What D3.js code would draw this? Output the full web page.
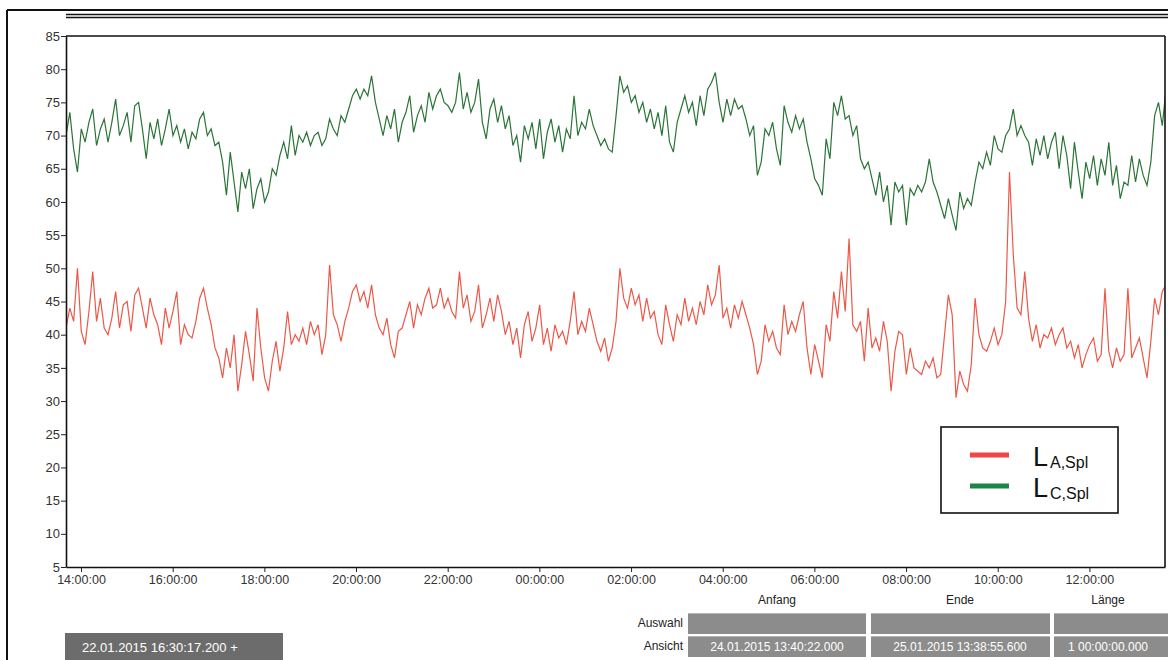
<!DOCTYPE html>
<html>
<head>
<meta charset="utf-8">
<script src="https://cdn.jsdelivr.net/npm/d3@7"></script>
<style>
  body { margin: 0; background: #fff; }
  svg { display: block; font-family: "Liberation Sans", Arial, sans-serif; }
</style>
</head>
<body>
<svg id="chart" width="1168" height="660"></svg>
<script>
// time range of the view (Ansicht)
var startTime = new Date(2015, 0, 24, 13, 40, 22);
var endTime = new Date(2015, 0, 25, 13, 38, 55, 600);
var stepMinutes = 5;

// L_A,Spl (red), one value every 5 minutes
var laSpl = [
  41, 44, 42, 50, 40.5, 38.5, 43.5, 49.5, 42, 45.5,
  41, 40, 42.5, 46.5, 41, 44.5, 45, 40.5, 46, 47,
  44, 41, 45.5, 43, 41.5, 38.5, 44, 41, 43.5, 46.5,
  38.5, 41.5, 40, 39.5, 42, 45.5, 47, 44, 41.5, 38,
  36.5, 33.5, 38, 35, 40, 31.5, 35.5, 40.5, 37, 33,
  44, 38, 33.5, 31.5, 36, 39, 34.5, 38, 43.5, 38.5,
  40, 39, 41, 38.5, 42, 40, 41.5, 37, 40, 50.5,
  43, 41.5, 39, 42, 44, 46.5, 47.5, 45, 46.5, 44,
  47.5, 43, 41, 40, 42.5, 38.5, 36.5, 40.5, 41, 43,
  45, 41, 44.5, 43, 45.5, 47, 44,
  44.5, 47, 44, 45.5, 43.5, 42.5, 49.5, 44, 46, 42,
  43.5, 47.5, 41, 43, 45.5, 42, 46, 43.5, 40, 42,
  38.5, 41, 36.5, 41.5, 43.5, 39, 41, 44.5, 38.5, 41,
  37.5, 41.5, 39.5, 40.5, 38.5, 42, 46.5, 40, 42, 40.5,
  44, 41.5, 39, 37.5, 39.5, 36, 38, 42, 50, 45.5,
  44, 47, 44.5, 46, 42, 45.5, 42.5, 43.5, 40, 38.5,
  44.5, 41.5, 39, 43, 41.5, 45.5, 42, 44, 41.5, 45,
  43, 47.5, 44.5, 46, 50.5, 42.5, 44, 41, 44.5, 42.5,
  45, 43, 41, 38.5, 34, 36, 41.5, 39, 40.5, 38,
  37, 44.5, 40, 42, 40.5, 43, 45,
  38,
  34, 38.5, 36, 33.5, 41.5, 39, 46.5, 42.5, 49.5, 43.5,
  54.5, 41.5, 40.5, 42, 36, 44, 38, 39.5, 37.5, 42,
  39, 31.5, 37.5, 40.5, 40, 34, 38, 35, 34.5, 34,
  36, 35, 36.5, 33.5, 34, 40, 46, 43, 30.5, 34.5,
  32.5, 31.5, 35.5, 45.5, 40, 38, 37.5, 39, 41, 38.5,
  40, 45, 64.5, 52, 44, 43, 49.5, 42.5, 39, 41.5,
  38, 40, 39.5, 41, 38.5, 40, 41, 38, 39, 36.5,
  38.5, 35, 37, 38.5, 39.5, 36, 37, 47, 37.5, 35,
  38, 36, 37, 47, 36.5, 38, 39.5, 36.5, 33.5, 39,
  45.5, 43, 46.5, 47.5
];

// L_C,Spl (green)
var lcSpl = [
  70, 73.5, 68, 64.5, 71, 69, 72, 74, 68.5, 71,
  72.5, 69, 72, 75.5, 70, 71.5, 73.5, 69, 74.5, 75,
  71, 66.5, 72, 69.5, 72.5, 68.5, 71, 74, 70, 71.5,
  69, 71, 68, 70.5, 69.5, 72.5, 73.5, 70, 71, 68.5,
  69, 66, 61, 67.5, 63, 58.5, 64.5, 62, 65, 59,
  62, 63.5, 60, 61.5, 65, 64, 67, 69, 66.5, 71.5,
  67, 70, 69, 70.5, 68.5, 70, 70.5, 68.5, 69.5, 72.5,
  71, 70, 73, 72, 74, 76, 77, 75.5, 77, 76,
  79, 75, 72.5, 70, 73, 71, 74, 69, 72, 73.5,
  76, 70.5, 73, 74.5, 72, 76.5, 74,
  76, 77, 75, 74.5, 73.5, 75, 79.5, 74, 76.5, 73.5,
  75, 78.5, 72, 69.5, 74, 75.5, 72, 74.5, 71, 73,
  68.5, 70, 66, 71.5, 69.5, 72, 68, 72.5, 66.5, 70.5,
  72.5, 69, 71.5, 67.5, 71, 69.5, 76, 70, 72, 71,
  74, 71.5, 70, 68.5, 69.5, 68, 67.5, 73, 79, 76.5,
  77.5, 75, 76, 73.5, 75, 72, 74, 71, 73.5, 70,
  74.5, 69, 67.5, 72, 74, 76, 73.5, 75, 71.5, 76,
  73, 77, 78, 79.5, 75, 72, 75.5, 73, 75.5, 74,
  74.5, 72.5, 70, 71.5, 64, 66, 71, 70, 72, 68,
  65.5, 74.5, 72, 70.5, 73, 71, 72.5,
  69,
  66.5, 63.5, 62.5, 61, 69.5, 66.5, 75, 73, 76, 72.5,
  73, 70, 71.5, 66.5, 65, 66, 63.5, 61, 64.5, 60,
  62.5, 56.5, 63, 61.5, 62.5, 56.5, 62, 61, 62.5, 61.5,
  63, 66.5, 63, 61.5, 59.5, 57.5, 60.5, 58, 55.7, 61.5,
  59, 60.5, 59.5, 63, 66, 65, 67.5, 65.5, 70, 68,
  67.5, 70, 71, 74, 70, 71.5, 70, 69, 65.5, 69.5,
  67, 70, 66.5, 69, 70.5, 65, 70, 67, 62, 69,
  64.5, 60.5, 66, 63.5, 67, 62.5, 66.5, 64, 69, 62.5,
  65.5, 60.5, 63, 62.5, 67, 63, 66.5, 64, 62.5, 66,
  73, 75, 71.5, 77
];

var yTicks = [5, 10, 15, 20, 25, 30, 35, 40, 45, 50, 55, 60, 65, 70, 75, 80, 85];
var legendMain = ["L", "L"];
var legendSub = ["A,Spl", "C,Spl"];
var seriesColors = ["#ec5848", "#2a7436"];
var legendColors = ["#f04646", "#1d8548"];

var panelColumns = ["Anfang", "Ende", "Länge"];
var panelRows = ["Auswahl", "Ansicht"];
var ansichtValues = ["24.01.2015 13:40:22.000", "25.01.2015 13:38:55.600", "1 00:00:00.000"];
var cursorLabel = "22.01.2015 16:30:17.200 +";

var svg = d3.select("#chart");
var plotLeft = 66, plotRight = 1165, plotTop = 36, plotBottom = 567;

var x = d3.scaleTime().domain([startTime, endTime]).range([plotLeft, plotRight]);
var y = d3.scaleLinear().domain([5, 85]).range([plotBottom, plotTop]);

function timeAt(i) {
    return new Date(startTime.getTime() + i * stepMinutes * 60000);
}

// outer frame of the window
svg.append("line").attr("x1", 7).attr("x2", 1168).attr("y1", 10).attr("y2", 10)
    .attr("stroke", "#111").attr("stroke-width", 2);
svg.append("line").attr("x1", 7).attr("x2", 7).attr("y1", 10).attr("y2", 660)
    .attr("stroke", "#111").attr("stroke-width", 2);
[14.5, 17.5].forEach(function (yy) {
    svg.append("line").attr("x1", plotLeft).attr("x2", 1168).attr("y1", yy).attr("y2", yy)
        .attr("stroke", "#111").attr("stroke-width", 1.4);
});

// clip for the traces
svg.append("clipPath").attr("id", "plotClip")
    .append("rect").attr("x", plotLeft).attr("y", plotTop)
    .attr("width", plotRight - plotLeft).attr("height", plotBottom - plotTop);

var plot = svg.append("g").attr("clip-path", "url(#plotClip)");

var line = d3.line()
    .x(function (d, i) { return x(timeAt(i)); })
    .y(function (d) { return y(d); });

[lcSpl, laSpl].forEach(function (series, k) {
    plot.append("path")
        .attr("d", line(series))
        .attr("fill", "none")
        .attr("stroke", k === 0 ? seriesColors[1] : seriesColors[0])
        .attr("stroke-width", 1.2)
        .attr("stroke-linejoin", "miter");
});

// plot frame (top + right)
svg.append("line").attr("x1", plotLeft).attr("x2", plotRight).attr("y1", plotTop).attr("y2", plotTop)
    .attr("stroke", "#111").attr("stroke-width", 1.6);
svg.append("line").attr("x1", plotRight).attr("x2", plotRight).attr("y1", plotTop).attr("y2", plotBottom)
    .attr("stroke", "#111").attr("stroke-width", 1.6);

// Y axis
var yAxis = svg.append("g")
    .attr("transform", "translate(" + plotLeft + ",0)")
    .call(d3.axisLeft(y).tickValues(yTicks).tickSize(5).tickSizeOuter(0).tickPadding(1));
yAxis.selectAll("text").attr("font-size", 13).attr("fill", "#333")
    .attr("font-family", "Liberation Sans, Arial, sans-serif");

// X axis
var xAxis = svg.append("g")
    .attr("transform", "translate(0," + plotBottom + ")")
    .call(d3.axisBottom(x).ticks(d3.timeHour.every(2))
        .tickFormat(d3.timeFormat("%H:%M:%S")).tickSize(5).tickSizeOuter(0).tickPadding(3));
xAxis.selectAll("text").attr("font-size", 12.5).attr("fill", "#333")
    .attr("font-family", "Liberation Sans, Arial, sans-serif");

[yAxis, xAxis].forEach(function (a) {
    a.select(".domain").attr("stroke", "#111").attr("stroke-width", 1.6);
    a.selectAll(".tick line").attr("stroke", "#222");
});

// legend
var legend = svg.append("g");
legend.append("rect").attr("x", 941).attr("y", 427).attr("width", 177).attr("height", 86)
    .attr("fill", "#fff").attr("stroke", "#111").attr("stroke-width", 1.6);
legendMain.forEach(function (m, i) {
    var ly = 455 + i * 31;
    legend.append("line").attr("x1", 970).attr("x2", 1009).attr("y1", ly).attr("y2", ly)
        .attr("stroke", legendColors[i]).attr("stroke-width", 5);
    legend.append("text").attr("x", 1033).attr("y", ly + 11)
        .attr("fill", "#111").attr("font-size", 27).text(m);
    legend.append("text").attr("x", 1050).attr("y", ly + 13)
        .attr("fill", "#111").attr("font-size", 16).text(legendSub[i]);
});

// bottom panel
var colX = [688, 871, 1054];
var colW = [178, 179, 114];
var colCenter = [777, 960, 1108];
panelColumns.forEach(function (c, i) {
    svg.append("text").attr("x", colCenter[i]).attr("y", 604).attr("text-anchor", "middle")
        .attr("font-size", 12).attr("fill", "#222").text(c);
});
panelRows.forEach(function (r, j) {
    var ry = 613 + j * 23;
    svg.append("text").attr("x", 683).attr("y", ry + 14).attr("text-anchor", "end")
        .attr("font-size", 12).attr("fill", "#222").text(r);
    colX.forEach(function (cx, i) {
        svg.append("rect").attr("x", cx).attr("y", ry).attr("width", colW[i]).attr("height", 21)
            .attr("fill", "#8c8c8c");
        svg.append("line").attr("x1", cx).attr("x2", cx + colW[i]).attr("y1", ry + 0.5).attr("y2", ry + 0.5)
            .attr("stroke", "#b5b5b5");
    });
});
ansichtValues.forEach(function (v, i) {
    svg.append("text").attr("x", colCenter[i]).attr("y", 651).attr("text-anchor", "middle")
        .attr("font-size", 12).attr("fill", "#fff").text(v);
});

svg.append("rect").attr("x", 65).attr("y", 633).attr("width", 218).attr("height", 27)
    .attr("fill", "#6c6c6c");
svg.append("text").attr("x", 82).attr("y", 652).attr("font-size", 13).attr("fill", "#fff")
    .text(cursorLabel);
</script>
</body>
</html>
